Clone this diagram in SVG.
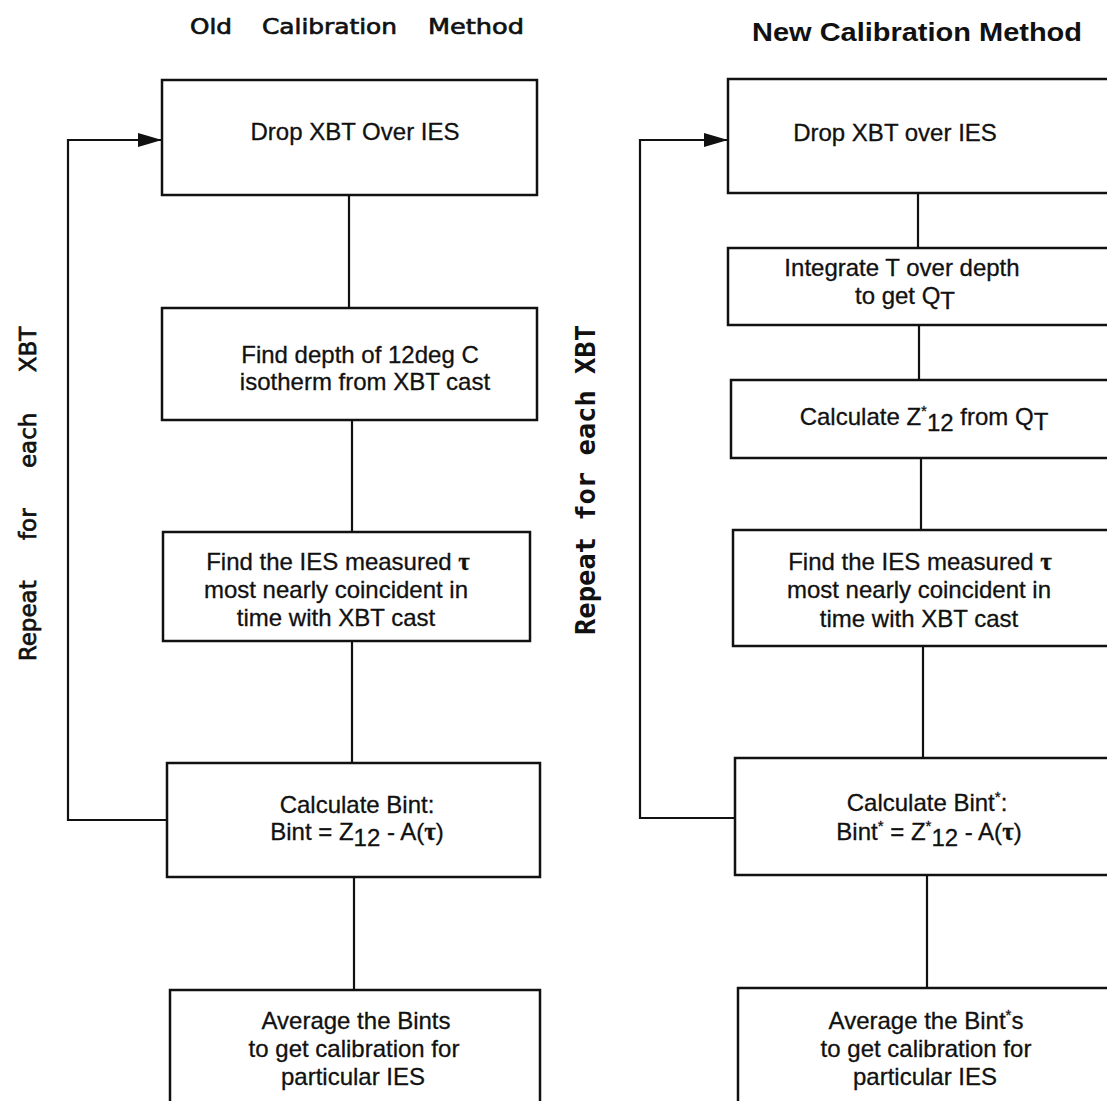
<svg xmlns="http://www.w3.org/2000/svg" width="1107" height="1101" viewBox="0 0 1107 1101">
<style>
.box{fill:#fff;stroke:#111;stroke-width:2.5}
.conn{fill:none;stroke:#111;stroke-width:2.2}
.t{font-family:"Liberation Sans",Arial,Helvetica,sans-serif;font-size:24px;fill:#111;text-anchor:middle;stroke:#111;stroke-width:0.3}
.sup{font-size:15px}
.tau{font-family:"Liberation Serif","Times New Roman",serif;font-size:25px;font-weight:bold}
.ttl{font-family:"DejaVu Sans",Verdana,sans-serif;font-size:22px;fill:#111;stroke:#111;stroke-width:0.7}
.ttl2{font-family:"Liberation Sans",Arial,sans-serif;font-weight:bold;font-size:25px;fill:#111;text-anchor:middle}
.rep{font-family:"DejaVu Sans",Verdana,sans-serif;font-size:23px;fill:#111;text-anchor:middle;word-spacing:33px;stroke:#111;stroke-width:0.7}
.rep2{font-family:"DejaVu Sans Mono","Liberation Mono",monospace;font-weight:bold;font-size:26px;fill:#111;text-anchor:middle}
</style>
<defs>
<marker id="arr" markerUnits="userSpaceOnUse" markerWidth="26" markerHeight="18" refX="24" refY="8" orient="auto">
<path d="M0,1 L24,8 L0,15 Z" fill="#111"/>
</marker>
</defs>
<rect width="1107" height="1101" fill="#fff"/>

<g id="titles">
<text class="ttl" x="190" y="34" textLength="42" lengthAdjust="spacingAndGlyphs">Old</text>
<text class="ttl" x="262" y="34" textLength="135" lengthAdjust="spacingAndGlyphs">Calibration</text>
<text class="ttl" x="428" y="34" textLength="96" lengthAdjust="spacingAndGlyphs">Method</text>
<text class="ttl2" x="917" y="41" textLength="330" lengthAdjust="spacingAndGlyphs">New Calibration Method</text>
<text class="rep" transform="translate(36,494) rotate(-90)">Repeat for each XBT</text>
<text class="rep2" transform="translate(595,480) rotate(-90)" textLength="310" lengthAdjust="spacingAndGlyphs">Repeat for each XBT</text>
</g>

<g id="connectors">
<line class="conn" x1="349" y1="195" x2="349" y2="308"/>
<line class="conn" x1="352" y1="420" x2="352" y2="532"/>
<line class="conn" x1="352" y1="641" x2="352" y2="763"/>
<line class="conn" x1="354" y1="877" x2="354" y2="990"/>
<polyline class="conn" points="167,820 68,820 68,140 162,140" marker-end="url(#arr)"/>
<line class="conn" x1="918" y1="193" x2="918" y2="248"/>
<line class="conn" x1="919" y1="325" x2="919" y2="380"/>
<line class="conn" x1="921" y1="458" x2="921" y2="530"/>
<line class="conn" x1="923" y1="646" x2="923" y2="758"/>
<line class="conn" x1="927" y1="875" x2="927" y2="988"/>
<polyline class="conn" points="735,818 640,818 640,140 728,140" marker-end="url(#arr)"/>
</g>

<g id="old-drop">
<rect class="box" x="162" y="80" width="375" height="115"/>
<text class="t" x="355" y="140">Drop XBT Over IES</text>
</g>
<g id="old-depth">
<rect class="box" x="162" y="308" width="375" height="112"/>
<text class="t" x="360" y="363">Find depth of 12deg C</text>
<text class="t" x="365" y="390">isotherm from XBT cast</text>
</g>
<g id="old-tau">
<rect class="box" x="163" y="532" width="367" height="109"/>
<text class="t" x="338" y="570">Find the IES measured <tspan class="tau">τ</tspan></text>
<text class="t" x="336" y="598">most nearly coincident in</text>
<text class="t" x="336" y="626">time with XBT cast</text>
</g>
<g id="old-bint">
<rect class="box" x="167" y="763" width="373" height="114"/>
<text class="t" x="357" y="813">Calculate Bint:</text>
<text class="t" x="357" y="840">Bint = Z<tspan dy="6">12</tspan><tspan dy="-6"> - A(</tspan><tspan class="tau">τ</tspan>)</text>
</g>
<g id="old-avg">
<rect class="box" x="170" y="990" width="370" height="125"/>
<text class="t" x="356" y="1029">Average the Bints</text>
<text class="t" x="354" y="1057">to get calibration for</text>
<text class="t" x="353" y="1085">particular IES</text>
</g>

<g id="new-drop">
<rect class="box" x="728" y="79" width="390" height="114"/>
<text class="t" x="895" y="141">Drop XBT over IES</text>
</g>
<g id="new-integrate">
<rect class="box" x="728" y="248" width="390" height="77"/>
<text class="t" x="902" y="276">Integrate T over depth</text>
<text class="t" x="905" y="304">to get Q<tspan dy="5">T</tspan></text>
</g>
<g id="new-z12">
<rect class="box" x="731" y="380" width="390" height="78"/>
<text class="t" x="924" y="425">Calculate Z<tspan class="sup" dy="-9">*</tspan><tspan dy="15">12</tspan><tspan dy="-6"> from Q</tspan><tspan dy="5">T</tspan></text>
</g>
<g id="new-tau">
<rect class="box" x="733" y="530" width="390" height="116"/>
<text class="t" x="920" y="570">Find the IES measured  <tspan class="tau">τ</tspan></text>
<text class="t" x="919" y="598">most nearly coincident in</text>
<text class="t" x="919" y="627">time with XBT cast</text>
</g>
<g id="new-bint">
<rect class="box" x="735" y="758" width="390" height="117"/>
<text class="t" x="927" y="811">Calculate Bint<tspan class="sup" dy="-9">*</tspan><tspan dy="9">:</tspan></text>
<text class="t" x="929" y="840">Bint<tspan class="sup" dy="-9">*</tspan><tspan dy="9"> = Z</tspan><tspan class="sup" dy="-9">*</tspan><tspan dy="15">12</tspan><tspan dy="-6"> - A(</tspan><tspan class="tau">τ</tspan>)</text>
</g>
<g id="new-avg">
<rect class="box" x="738" y="988" width="390" height="125"/>
<text class="t" x="926" y="1029">Average the Bint<tspan class="sup" dy="-9">*</tspan><tspan dy="9">s</tspan></text>
<text class="t" x="926" y="1057">to get calibration for</text>
<text class="t" x="925" y="1085">particular IES</text>
</g>
</svg>
